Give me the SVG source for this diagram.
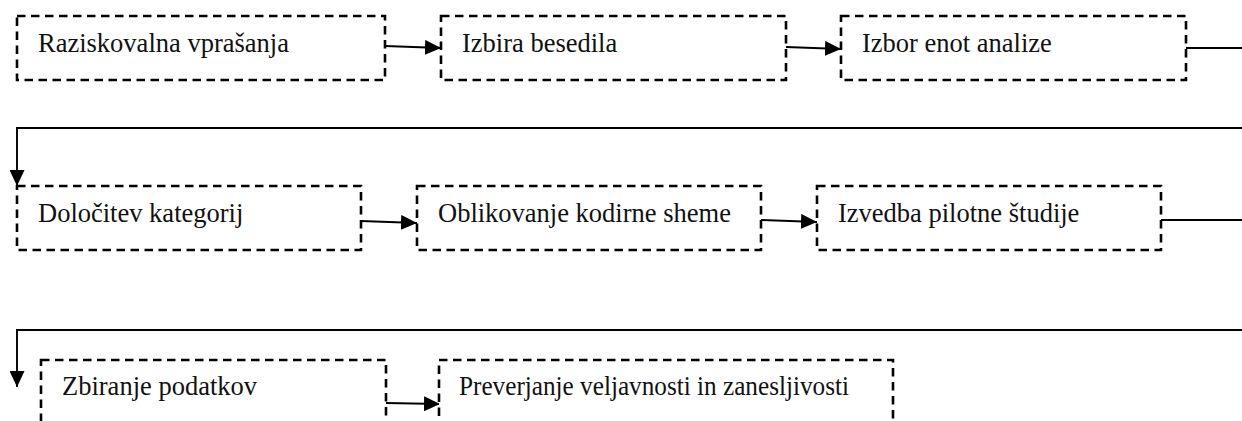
<svg xmlns="http://www.w3.org/2000/svg" width="1242" height="421" viewBox="0 0 1242 421">
  <style>
    .box { fill: #ffffff; stroke: #000000; stroke-width: 2.6; stroke-dasharray: 8.5 5.5; }
    .label { font-family: "Liberation Serif", "Times New Roman", serif; font-size: 26.5px; fill: #111111; }
    .link { fill: none; stroke: #000000; stroke-width: 1.9; }
  </style>
  <defs>
    <marker id="arrow" markerUnits="userSpaceOnUse" markerWidth="17" markerHeight="15" refX="16" refY="7.5" orient="auto">
      <path d="M0,0 L16,7.5 L0,15 Z" fill="#000000"/>
    </marker>
  </defs>
  <rect width="1242" height="421" fill="#ffffff"/>

  <!-- Connectors -->
  <g id="connectors">
    <line class="link" x1="385" y1="46" x2="441" y2="48" marker-end="url(#arrow)"/>
    <line class="link" x1="786" y1="47" x2="841" y2="49" marker-end="url(#arrow)"/>
    <line class="link" x1="1186" y1="48" x2="1242" y2="48"/>
    <polyline class="link" points="1242,128 17,128 17,186" marker-end="url(#arrow)"/>
    <line class="link" x1="361" y1="221" x2="417" y2="223" marker-end="url(#arrow)"/>
    <line class="link" x1="761" y1="220" x2="817" y2="222" marker-end="url(#arrow)"/>
    <line class="link" x1="1161" y1="220" x2="1242" y2="220"/>
    <polyline class="link" points="1242,330 17,330 17,387" marker-end="url(#arrow)"/>
    <line class="link" x1="386" y1="403" x2="440" y2="404" marker-end="url(#arrow)"/>
  </g>

  <!-- Row 1 -->
  <g id="node-raziskovalna">
    <rect class="box" x="17" y="16" width="368" height="64"/>
    <text class="label" x="38" y="52">Raziskovalna vprašanja</text>
  </g>
  <g id="node-izbira">
    <rect class="box" x="441" y="16" width="345" height="64"/>
    <text class="label" x="462" y="52">Izbira besedila</text>
  </g>
  <g id="node-izbor">
    <rect class="box" x="841" y="16" width="345" height="64"/>
    <text class="label" x="862" y="52">Izbor enot analize</text>
  </g>

  <!-- Row 2 -->
  <g id="node-dolocitev">
    <rect class="box" x="17" y="186" width="344" height="64"/>
    <text class="label" x="38" y="222">Določitev kategorij</text>
  </g>
  <g id="node-oblikovanje">
    <rect class="box" x="417" y="186" width="344" height="64"/>
    <text class="label" x="438" y="222">Oblikovanje kodirne sheme</text>
  </g>
  <g id="node-izvedba">
    <rect class="box" x="817" y="186" width="344" height="64"/>
    <text class="label" x="838" y="222">Izvedba pilotne študije</text>
  </g>

  <!-- Row 3 -->
  <g id="node-zbiranje">
    <rect class="box" x="41" y="360" width="345" height="64"/>
    <text class="label" x="62" y="395">Zbiranje podatkov</text>
  </g>
  <g id="node-preverjanje">
    <rect class="box" x="439" y="360" width="454" height="64"/>
    <text class="label" x="459" y="395" textLength="390" lengthAdjust="spacingAndGlyphs">Preverjanje veljavnosti in zanesljivosti</text>
  </g>
</svg>
